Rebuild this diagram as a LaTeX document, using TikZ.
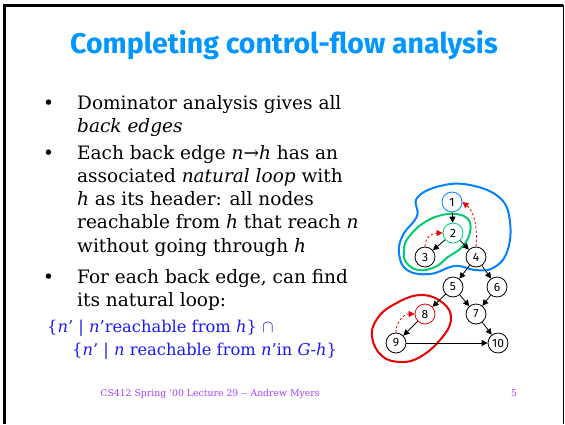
\documentclass[tikz,border=0pt]{standalone}
\usepackage{fontspec}
\setmainfont{DejaVu Serif}
\newfontfamily\titlefont{Fira Sans}
\usetikzlibrary{arrows.meta}
\definecolor{titleblue}{RGB}{0,150,255}
\definecolor{formblue}{RGB}{25,25,240}
\definecolor{footpurple}{RGB}{165,60,255}
\definecolor{loopblue}{RGB}{0,130,255}
\definecolor{loopgreen}{RGB}{0,205,110}
\definecolor{loopred}{RGB}{235,0,0}
\tikzset{
  cfgnode/.style={circle, draw=black, line width=0.8pt, fill=white, minimum size=20pt, inner sep=0pt, font=\titlefont\fontsize{12}{12}\selectfont},
  cfgedge/.style={-{Triangle[length=6pt,width=6pt]}, line width=0.8pt},
  backedge/.style={-{Triangle[length=6pt,width=6pt]}, line width=0.8pt, draw=loopred, dash pattern=on 2.5pt off 2pt},
  bodyline/.style={anchor=base west, inner sep=0pt, font=\fontsize{18.5}{22}\selectfont},
  bulletmark/.style={anchor=base west, inner sep=0pt, font=\fontsize{18.5}{22}\selectfont},
  formline/.style={anchor=base west, inner sep=0pt, text=formblue, font=\fontsize{16.3}{20}\selectfont},
  footline/.style={anchor=base, inner sep=0pt, text=footpurple, font=\fontsize{9.3}{11}\selectfont},
  loopline/.style={line width=2pt, smooth cycle, tension=0.7}
}
\begin{document}
\begin{tikzpicture}[x=1pt, y=-1pt]
		\useasboundingbox (0,0) rectangle (565,424);
		% slide frame
		\draw[line width=3pt] (4,424) -- (4,5) -- (563,5);
		\draw[line width=1pt] (563,5) -- (563,424);
		% title
		\node[anchor=base, inner sep=0pt, text=titleblue, font=\titlefont\bfseries\fontsize{28.5}{32}\selectfont](title) at (284,53){Completing control-flow analysis};
		% bullets
		\node[bulletmark](b1) at (43,109){•};
		\node[bodyline](l1) at (77,109){Dominator analysis gives all};
		\node[bodyline](l2) at (77,132){\textit{back edges}};
		\node[bulletmark](b2) at (43,159){•};
		\node[bodyline](l3) at (77,159){Each back edge \textit{n}→\textit{h} has an};
		\node[bodyline](l4) at (77,182){associated \textit{natural loop} with};
		\node[bodyline](l5) at (77,205){\textit{h} as its header: all nodes};
		\node[bodyline](l6) at (77,228){reachable from \textit{h} that reach \textit{n}};
		\node[bodyline](l7) at (77,252){without going through \textit{h}};
		\node[bulletmark](b3) at (43,283){•};
		\node[bodyline](l8) at (77,283){For each back edge, can find};
		\node[bodyline](l9) at (77,306){its natural loop:};
		\node[formline](f1) at (47,332){\{\textit{n}' | \textit{n}'reachable from \textit{h}\} $\cap$};
		\node[formline](f2) at (72,355){\{\textit{n}' | \textit{n} reachable from \textit{n}'in \textit{G}-\textit{h}\}};
		% footer
		\node[footline](foot) at (210,396){CS412 Spring '00 Lecture 29 -{}- Andrew Myers};
		\node[footline](page) at (514,396){5};
		% loops
		\draw[loopblue, loopline] plot coordinates {(417,198) (440,186) (470,185) (500,198) (510,222) (507,252) (493,268) (475,270) (455,266) (430,274) (407,270) (399,253) (403,235) (417,216)};
		\draw[loopgreen, loopline] plot coordinates {(408,238) (425,222) (448,214) (467,218) (470,232) (462,247) (448,257) (435,267) (418,270) (406,262) (404,250)};
		\draw[loopred, loopline] plot coordinates {(420,295) (443,303) (451,320) (440,340) (420,357) (401,362) (382,356) (372,337) (377,319) (393,305)};
		% graph
		\node[cfgnode, draw=loopblue](one) at (452,202){1};
		\node[cfgnode, draw=loopgreen](two) at (453,233){2};
		\node[cfgnode](three) at (425,257){3};
		\node[cfgnode](four) at (476,257){4};
		\node[cfgnode](five) at (453,287){5};
		\node[cfgnode](six) at (497,287){6};
		\node[cfgnode](seven) at (476,314){7};
		\node[cfgnode, draw=loopred](eight) at (425,314){8};
		\node[cfgnode](nine) at (396,343){9};
		\node[cfgnode](ten) at (498,343){10};
		\draw[cfgedge] (one) -- (two);
		\draw[cfgedge] (two) -- (three);
		\draw[cfgedge] (two) -- (four);
		\draw[cfgedge] (four) -- (five);
		\draw[cfgedge] (four) -- (six);
		\draw[cfgedge] (five) -- (eight);
		\draw[cfgedge] (five) -- (seven);
		\draw[cfgedge] (six) -- (seven);
		\draw[cfgedge] (seven) -- (ten);
		\draw[cfgedge] (eight) -- (nine);
		\draw[cfgedge] (nine) -- (ten);
		% back edges
		\draw[backedge] (four.north) .. controls +(2,-24) and +(10,8) .. (one.east);
		\draw[backedge] (three.north) .. controls +(0,-10) and +(-10,0) .. (two.west);
		\draw[backedge] (nine.north) .. controls +(0,-12) and +(-10,0) .. (eight.west);
	\end{tikzpicture}
\end{document}
